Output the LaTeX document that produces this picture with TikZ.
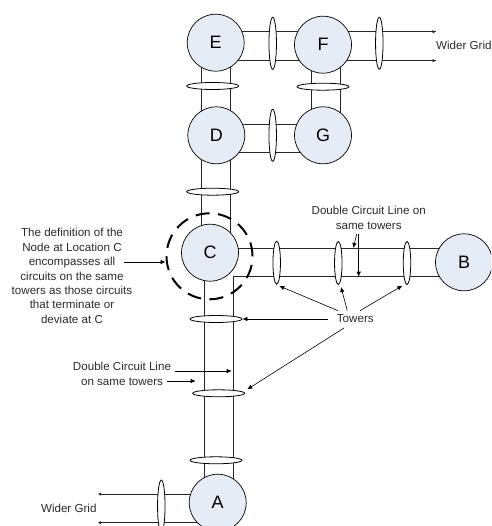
\documentclass[tikz,border=0pt]{standalone}
\usepackage{fontspec}
\setmainfont{Liberation Sans}
\usetikzlibrary{arrows.meta,shapes.geometric,calc}
\pgfdeclarelayer{wires}
\pgfsetlayers{wires,main}
\definecolor{busfill}{HTML}{E6ECF6}
\definecolor{inktext}{HTML}{2A2A2A}
\tikzset{
  x=1pt,y=-1pt,
  bus/.style={circle,draw=black,line width=0.7pt,fill=busfill,minimum size=57pt,inner sep=0pt,font=\fontsize{18}{20}\selectfont,text=black},
  htower/.style={ellipse,draw=black,line width=0.8pt,fill=white,minimum width=52pt,minimum height=7pt,inner sep=0pt},
  vtower/.style={ellipse,draw=black,line width=0.8pt,fill=white,minimum width=7.5pt,minimum height=52pt,inner sep=0pt},
  wire/.style={draw=black!85,line width=0.8pt},
  note/.style={font=\fontsize{11.6}{14.4}\selectfont,text=inktext,align=center,inner sep=0pt},
  pointer/.style={draw=black,line width=0.6pt,-{Latex[length=5pt,width=4.5pt]}},
}
\begin{document}
\begin{tikzpicture}
\useasboundingbox (0,0) rectangle (491,526);
\clip (0,0) rectangle (491,526);
% buses
\node[bus] (E) at (215.7,42.7) {E};
\node[bus] (F) at (323,44.7) {F};
\node[bus] (D) at (216.3,135.3) {D};
\node[bus] (G) at (323,135.3) {G};
\node[bus] (C) at (210,252.7) {C};
\node[bus] (B) at (464,262.3) {B};
\node[bus] (A) at (217.7,502.7) {A};
% free ends
\coordinate (gridTop) at (436,31.7);
\coordinate (gridBot) at (436,60.7);
\coordinate (aTop) at (97.7,494);
\coordinate (aBot) at (97.7,522.7);
\coordinate (corner) at (233,276.7);
% towers
\node[htower] (t1) at (212.7,86) {};
\node[htower] (t2) at (323,86.7) {};
\node[htower] (t3) at (212.7,191.7) {};
\node[htower] (t4) at (216,319) {};
\node[htower] (t5) at (218.7,393.3) {};
\node[htower] (t6) at (216,460.3) {};
\node[vtower] (t7) at (272.7,43.3) {};
\node[vtower] (t8) at (379.3,43.3) {};
\node[vtower] (t9) at (272.7,135.3) {};
\node[vtower,minimum height=43pt] (t10) at (276.7,262.7) {};
\node[vtower,minimum height=43pt] (t11) at (338.3,263) {};
\node[vtower,minimum height=43pt] (t12) at (407,263) {};
\node[vtower] (t13) at (161.3,506) {};
% wires
\begin{pgfonlayer}{wires}
\draw[wire] (E.center |- gridTop) -- (gridTop);
\draw[wire] (E.center |- gridBot) -- (gridBot);
\draw[wire,-{Latex[length=3.5pt,width=3.5pt]}] (F.center |- gridTop) -- (gridTop);
\draw[wire,-{Latex[length=3.5pt,width=3.5pt]}] (F.center |- gridBot) -- (gridBot);
\draw[wire] ($(D)+(0,-11.3)$) -- ($(G)+(0,-11.3)$);
\draw[wire] ($(D)+(0,17.4)$) -- ($(G)+(0,17.4)$);
\draw[wire] (201,42.7) -- (201,252.7);
\draw[wire] (230,42.7) -- (230,252.7);
\draw[wire] ($(F)+(-11.3,0)$) -- ($(G)+(-11.3,0)$);
\draw[wire] ($(F)+(17.3,0)$) -- ($(G)+(17.3,0)$);
\draw[wire] (C.center |- 0,248.3) -- (B.center |- 0,248.3);
\draw[wire] (B.center |- corner) -- (corner) -- (corner |- A.center);
\draw[wire] (204.5,252.7) -- (204.5,502.7);
\draw[wire,-{Latex[length=3.5pt,width=3.5pt]}] (A.center |- aTop) -- (aTop);
\draw[wire,-{Latex[length=3.5pt,width=3.5pt]}] (A.center |- aBot) -- (aBot);
\end{pgfonlayer}
% zone round C
\node[circle,draw=black,line width=2pt,dash pattern=on 14pt off 8.5pt,minimum size=86pt,inner sep=0pt] (zone) at (209.5,256.3) {};
% labels
\node[note,anchor=west] (w1) at (436,45) {Wider Grid};
\node[note,anchor=east] (w2) at (96.7,508) {Wider Grid};
\node[note] (def) at (72,276) {The definition of the\\Node at Location C\\encompasses all\\circuits on the same\\towers as those circuits\\that terminate or\\deviate at C};
\node[note] (dc1) at (368.7,218) {Double Circuit Line on\\same towers};
\node[note] (dc2) at (122,373.7) {Double Circuit Line\\on same towers};
\node[note] (tw) at (355.3,318.7) {Towers};
% pointers
\coordinate (defOut) at (124,262);
\draw[pointer] (defOut) -- (zone.west |- defOut);
\coordinate (dcA) at (356.7,234);
\coordinate (dcB) at (358.7,234);
\draw[pointer] (dcA) -- (353.3,248);
\draw[pointer] (dcB) -- (358.7,276.7);
\coordinate (twL) at (338,310.7);
\coordinate (twM) at (347.3,310.7);
\coordinate (twR) at (360,310.7);
\coordinate (twW) at (328,319);
\coordinate (twS) at (344,328);
\draw[pointer] (twL) -- (279.3,286);
\draw[pointer] (twM) -- (341,287);
\draw[pointer] (twR) -- (402.3,285.7);
\draw[pointer] (twW) -- (t4.east |- twW);
\draw[pointer] (twS) -- (247.3,389.3);
\coordinate (dl1) at (175.3,371);
\coordinate (dl2) at (167,381);
\draw[pointer] (dl1) -- (231.7,371);
\draw[pointer] (dl2) -- (195.7,381);
\end{tikzpicture}
\end{document}
